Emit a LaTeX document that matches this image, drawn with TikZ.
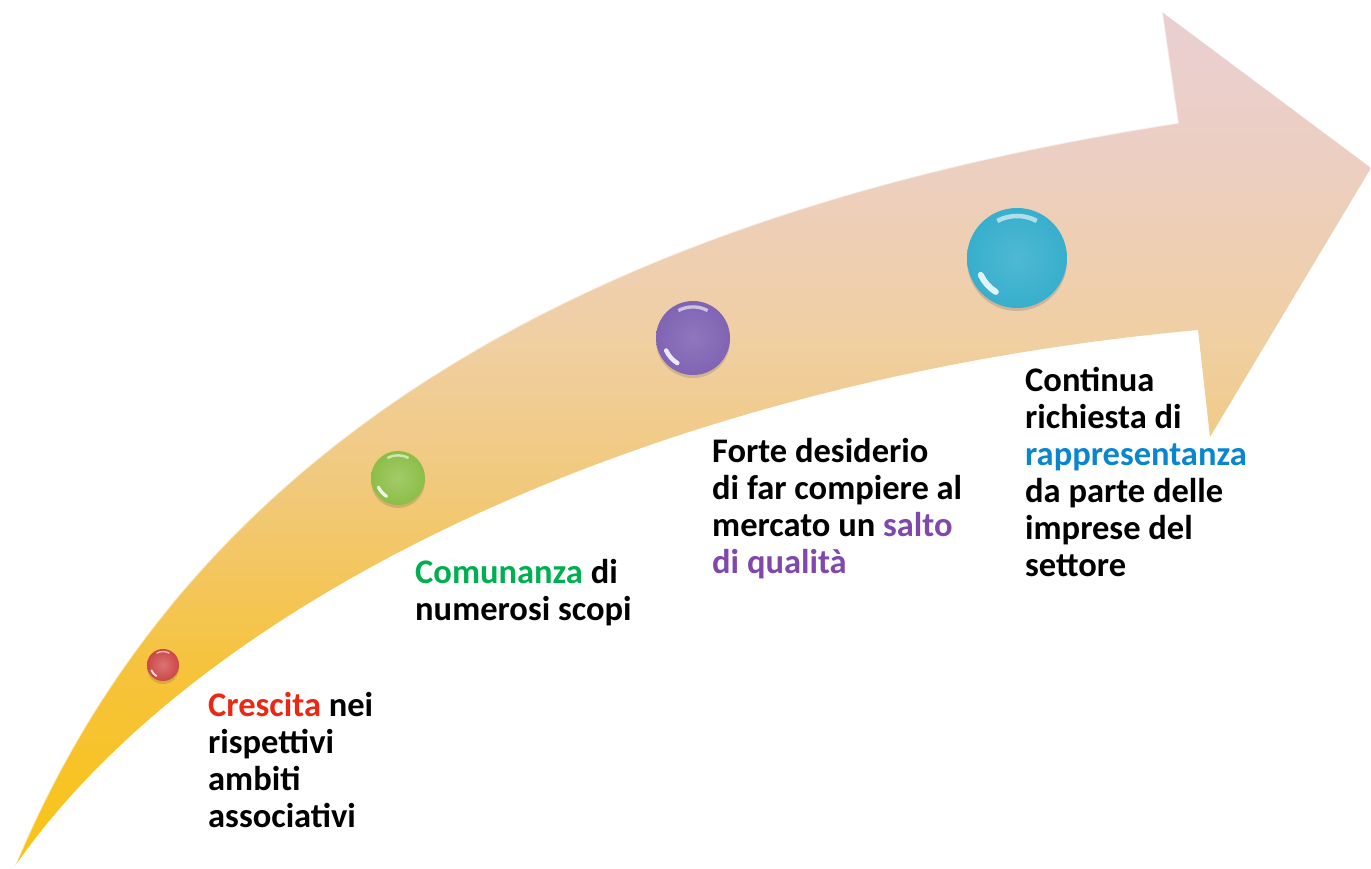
\documentclass[tikz,border=0pt]{standalone}
\usepackage{fontspec}
\setmainfont{Carlito}
\usetikzlibrary{shadows}

\definecolor{cred}{RGB}{235,40,20}
\definecolor{cgreen}{RGB}{0,175,80}
\definecolor{cpurple}{RGB}{128,72,172}
\definecolor{cblue}{RGB}{10,134,206}
\definecolor{bred}{RGB}{205,70,70}
\definecolor{bgreen}{RGB}{140,190,70}
\definecolor{bpurple}{RGB}{128,100,180}
\definecolor{bcyan}{RGB}{55,175,205}
\definecolor{ayel}{RGB}{248,196,20}
\definecolor{agold}{RGB}{246,195,60}
\definecolor{atan}{RGB}{241,201,125}
\definecolor{apeach}{RGB}{240,207,163}
\definecolor{arose}{RGB}{236,207,193}
\definecolor{apink}{RGB}{234,207,210}

\pgfdeclareverticalshading{arrowfill}{100bp}{color(0bp)=(ayel); color(25bp)=(ayel);
  color(36.5bp)=(agold); color(47.5bp)=(atan); color(56bp)=(apeach);
  color(66bp)=(arose); color(75bp)=(apink); color(100bp)=(apink)}

\begin{document}
\begin{tikzpicture}[x=1pt, y=1pt,
    bead/.style={circle, inner sep=0pt, minimum size=#1,
      drop shadow={shadow xshift=0pt, shadow yshift=-3pt, opacity=0.2, fill=black!70}},
    notetext/.style={anchor=base west, align=left, inner sep=0pt,
      font=\fontsize{34.5}{37}\selectfont\bfseries}]
  \useasboundingbox (0,0) rectangle (1371,869);

  % curved arrow
  \coordinate (tail) at (15,3);
  \coordinate (neck) at (1178,746);
  \coordinate (chin) at (1198,539);
  \shade[shading=arrowfill] (tail) .. controls (180,399) and (550,649) .. (neck)
    -- (1162,857) -- (1371,701) -- (1210,432) -- (chin)
    .. controls (650,489) and (200,269) .. (tail) -- cycle;
  \draw[white, opacity=0.6, line width=1.5pt] (tail) .. controls (180,399) and (550,649) .. (neck) -- (1162,857);

  % beads
  \node (crescita)[bead=32pt, inner color=bred!75!white, outer color=bred] at (163,204) {};
  \node (comunanza)[bead=54pt, inner color=bgreen!80!white, outer color=bgreen] at (398,391) {};
  \node (salto)[bead=74pt, inner color=bpurple!88!white, outer color=bpurple] at (693,531) {};
  \node (rappr)[bead=100pt, inner color=bcyan!88!white, outer color=bcyan] at (1017,611) {};

  \foreach \n/\r in {crescita/16, comunanza/27, salto/37, rappr/50} {
    \draw[white, opacity=0.6, line width=0.09*\r] ([shift={(118:{0.84*\r})}]\n.center)
      arc[start angle=118, end angle=62, radius=0.84*\r];
    \draw[white, opacity=0.85, line width=0.12*\r, line cap=round] ([shift={(238:{0.8*\r})}]\n.center)
      arc[start angle=238, end angle=205, radius=0.8*\r];
  }

  % texts (placed by the baseline of their last line)
  \node (crescitatxt)[notetext] at (208,41) {\textcolor{cred}{Crescita} nei\\rispettivi\\ambiti\\associativi};
  \node (comunanzatxt)[notetext] at (415,248) {\textcolor{cgreen}{Comunanza} di\\numerosi scopi};
  \node (saltotxt)[notetext] at (712,295) {Forte desiderio\\di far compiere al\\mercato un \textcolor{cpurple}{salto}\\\textcolor{cpurple}{di qualità}};
  \node (rapprtxt)[notetext] at (1025,292) {Continua\\richiesta di\\\textcolor{cblue}{rappresentanza}\\da parte delle\\imprese del\\settore};
\end{tikzpicture}
\end{document}
